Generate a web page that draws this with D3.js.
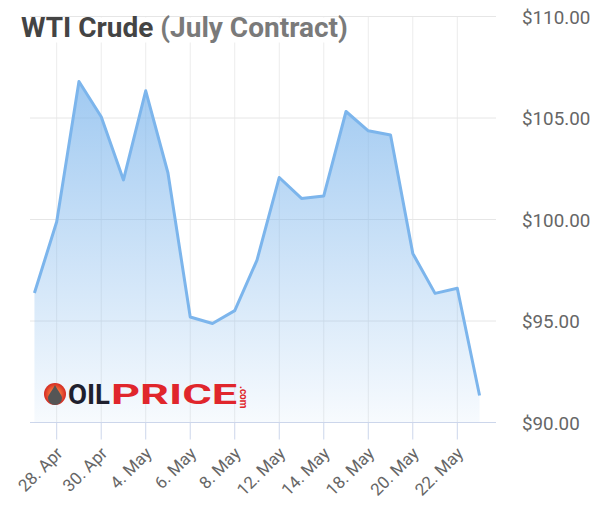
<!DOCTYPE html>
<html>
<head>
<meta charset="utf-8">
<script src="https://cdn.jsdelivr.net/npm/d3@7"></script>
<style>
  body { margin: 0; background: #fff; }
  svg { font-family: Roboto, "Open Sans", sans-serif; display: block; }
</style>
</head>
<body>
<svg id="chart"></svg>
<script>
// WTI crude, July contract -- daily settles
var dates = ["27. Apr", "28. Apr", "29. Apr", "30. Apr", "1. May", "4. May", "5. May",
  "6. May", "7. May", "8. May", "11. May", "12. May", "13. May", "14. May", "15. May",
  "18. May", "19. May", "20. May", "21. May", "22. May", "26. May"];
var prices = [96.38, 99.89, 106.8, 105.06, 101.95, 106.34, 102.29, 95.2, 94.88, 95.51,
  98.0, 102.07, 101.04, 101.16, 105.32, 104.37, 104.16, 98.33, 96.36, 96.61, 91.33];
var tickLabels = ["28. Apr", "30. Apr", "4. May", "6. May", "8. May", "12. May",
  "14. May", "18. May", "20. May", "22. May"];
var yTicks = [90, 95, 100, 105, 110];

var width = 594, height = 522;
var plot = {left: 30, right: 496, top: 16.5, bottom: 422.5};

var svg = d3.select("#chart")
  .attr("width", width)
  .attr("height", height);

var data = dates.map(function(d, i) { return {label: d, i: i, price: prices[i]}; });

var xScale = d3.scaleLinear().domain([1, 19]).range([56.7, 457.3]);
var yScale = d3.scaleLinear().domain([90, 110]).range([plot.bottom, plot.top]);

var defs = svg.append("defs");
var grad = defs.append("linearGradient")
  .attr("id", "areaFill")
  .attr("gradientUnits", "userSpaceOnUse")
  .attr("x1", 0).attr("x2", 0)
  .attr("y1", yScale(110)).attr("y2", yScale(90));
grad.append("stop").attr("offset", 0).attr("stop-color", "#7cb5ec").attr("stop-opacity", 0.85);
grad.append("stop").attr("offset", 1).attr("stop-color", "#7cb5ec").attr("stop-opacity", 0.06);

// grid
var tickIdx = data.filter(function(d) { return tickLabels.indexOf(d.label) >= 0; });

svg.append("g").selectAll("line")
  .data(tickIdx)
  .join("line")
  .attr("x1", function(d) { return xScale(d.i); })
  .attr("x2", function(d) { return xScale(d.i); })
  .attr("y1", plot.top)
  .attr("y2", plot.bottom)
  .attr("stroke", "#ececec")
  .attr("stroke-width", 1);

svg.append("g").selectAll("line")
  .data(yTicks.slice(1))
  .join("line")
  .attr("x1", plot.left)
  .attr("x2", plot.right)
  .attr("y1", function(d) { return yScale(d); })
  .attr("y2", function(d) { return yScale(d); })
  .attr("stroke", "#e6e6e6")
  .attr("stroke-width", 1);

// area + line
var area = d3.area()
  .x(function(d) { return xScale(d.i); })
  .y0(yScale(90))
  .y1(function(d) { return yScale(d.price); });

var line = d3.line()
  .x(function(d) { return xScale(d.i); })
  .y(function(d) { return yScale(d.price); });

svg.append("path")
  .attr("d", area(data))
  .attr("fill", "url(#areaFill)");

svg.append("path")
  .attr("d", line(data))
  .attr("fill", "none")
  .attr("stroke", "#7cb5ec")
  .attr("stroke-width", 3)
  .attr("stroke-linejoin", "round");

// x axis
svg.append("line")
  .attr("x1", plot.left).attr("x2", plot.right)
  .attr("y1", plot.bottom).attr("y2", plot.bottom)
  .attr("stroke", "#ccd6eb");

var xt = svg.append("g").selectAll("g")
  .data(tickIdx)
  .join("g")
  .attr("transform", function(d) { return "translate(" + xScale(d.i) + "," + plot.bottom + ")"; });
xt.append("line").attr("y2", 17).attr("stroke", "#ccd6eb");
xt.append("text")
  .attr("transform", "translate(7,32) rotate(-45)")
  .attr("text-anchor", "end")
  .attr("font-size", 17)
  .attr("fill", "#666")
  .text(function(d) { return d.label; });

// y labels on the right
svg.append("g").selectAll("text")
  .data(yTicks)
  .join("text")
  .attr("x", 522)
  .attr("y", function(d) { return yScale(d) + 7; })
  .attr("font-size", 18.8)
  .attr("fill", "#666")
  .text(function(d) { return "$" + d3.format(".2f")(d); });

// title on a white box
svg.append("rect").attr("x", 0).attr("y", 17.5).attr("width", 352).attr("height", 25).attr("fill", "#fff");
var title = svg.append("text")
  .attr("x", 21).attr("y", 37)
  .attr("font-size", 28)
  .attr("font-weight", "bold");
title.append("tspan").attr("fill", "#444").text("WTI Crude ");
title.append("tspan").attr("fill", "#7a7a7a").text("(July Contract)");

// oilprice logo
var logo = svg.append("g").attr("transform", "translate(55,394)");
var lg = defs.append("radialGradient").attr("id", "logoRed");
lg.append("stop").attr("offset", 0.5).attr("stop-color", "#f06a3a");
lg.append("stop").attr("offset", 1).attr("stop-color", "#d42a22");
logo.append("circle").attr("r", 11).attr("fill", "url(#logoRed)");
logo.append("path")
  .attr("d", "M0,-9 C3,-3 7,1 7,4 A7,7 0 0 1 -7,4 C-7,1 -3,-3 0,-9Z")
  .attr("fill", "#555");
logo.append("text")
  .attr("x", 13).attr("y", 9.5)
  .attr("font-size", 27).attr("font-weight", "bold")
  .attr("fill", "#1e1f2e")
  .attr("textLength", 42).attr("lengthAdjust", "spacingAndGlyphs")
  .text("OIL");
logo.append("text")
  .attr("x", 56).attr("y", 9.5)
  .attr("font-size", 27).attr("font-weight", "bold")
  .attr("fill", "#e0262c")
  .attr("textLength", 126).attr("lengthAdjust", "spacingAndGlyphs")
  .text("PRICE");
logo.append("text")
  .attr("transform", "translate(185,-8) rotate(90)")
  .attr("font-size", 10).attr("font-weight", "bold")
  .attr("fill", "#e0262c")
  .text(".com");
</script>
</body>
</html>
